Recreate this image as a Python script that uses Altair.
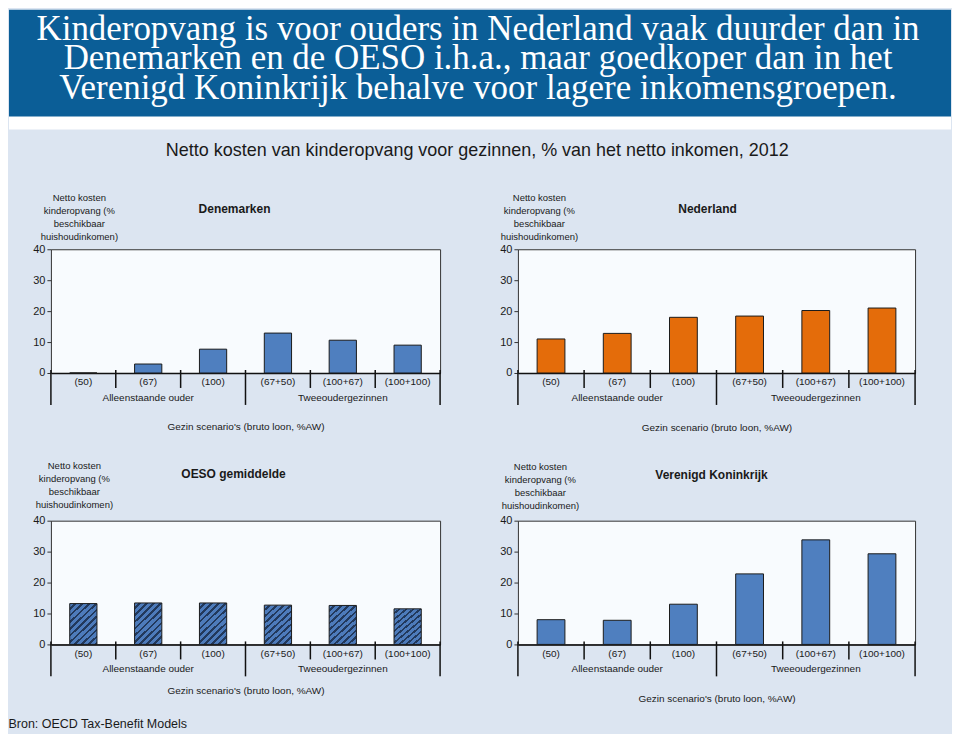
import altair as alt
import pandas as pd

# ---------------- data ----------------
scenarios = ["(50)", "(67)", "(100)", "(67+50)", "(100+67)", "(100+100)"]
groups = ["Alleenstaande ouder"] * 3 + ["Tweeoudergezinnen"] * 3
denemarken = [0.0, 2.9, 7.7, 12.9, 10.6, 9.0]
nederland = [11.0, 12.8, 18.0, 18.4, 20.2, 21.0]
oeso = [13.2, 13.4, 13.4, 12.7, 12.6, 11.5]
verenigd_koninkrijk = [8.0, 7.8, 13.0, 22.8, 33.8, 29.3]
y_ticks = [0, 10, 20, 30, 40]

banner_lines = [
    "Kinderopvang is voor ouders in Nederland vaak duurder dan in",
    "Denemarken en de OESO i.h.a., maar goedkoper dan in het",
    "Verenigd Koninkrijk behalve voor lagere inkomensgroepen.",
]
main_title = "Netto kosten van kinderopvang voor gezinnen, % van het netto inkomen, 2012"
y_title = ["Netto kosten", "kinderopvang (%", "beschikbaar", "huishoudinkomen)"]
x_title_a = "Gezin scenario's (bruto loon, %AW)"
x_title_b = "Gezin scenario (bruto loon, %AW)"
source_text = "Bron: OECD Tax-Benefit Models"

# ---------------- style ----------------
FONT = "Liberation Sans, Arial, sans-serif"
SERIF = "Liberation Serif, DejaVu Serif, serif"
BG = "#dce5f1"
BANNER = "#0b5e97"
PLOT_BG = "#f8fbfe"
TXT = "#1a1a1a"
BLUE = "#4f7fbf"
ORANGE = "#e46c0a"

# hatched fill (diagonal stripes) as a hard-stop linear gradient
stops = []
n_stripes = 10
for i in range(n_stripes):
    a = i / n_stripes
    b = (i + 0.62) / n_stripes
    c = (i + 1) / n_stripes
    stops += [
        alt.GradientStop(offset=a, color="#4d7bbb"),
        alt.GradientStop(offset=b, color="#4d7bbb"),
        alt.GradientStop(offset=b, color="#22395c"),
        alt.GradientStop(offset=c, color="#22395c"),
    ]
HATCH = alt.LinearGradient(gradient="linear", stops=stops, x1=0, y1=0, x2=0.744, y2=1.163)


def panel(values, name, xtitle, fill, width, height, title_pad, ytitle_x, ytitle_y,
          title_offset, title_dx):
    df = pd.DataFrame({"scenario": scenarios, "groep": groups, "waarde": values})
    xaxis = alt.Axis(
        title=xtitle, labelAngle=0, ticks=False, domain=True, domainColor="#111",
        domainWidth=1.5, labelPadding=4, labelFontSize=10, labelFont=FONT,
        labelColor=TXT, titleFont=FONT, titleFontSize=10, titleFontWeight="normal",
        titleColor=TXT, titlePadding=title_pad,
    )
    xscale = alt.Scale(type="band", paddingInner=0, paddingOuter=0)

    def xenc(bp=None):
        if bp is None:
            return alt.X("scenario:N", sort=scenarios, scale=xscale, axis=xaxis)
        return alt.X("scenario:N", sort=scenarios, scale=xscale, axis=xaxis, bandPosition=bp)

    bars = alt.Chart(df).mark_bar(
        fill=fill, stroke="#1b1b1b", strokeWidth=1, width=alt.RelativeBandSize(0.42)
    ).encode(
        x=xenc(),
        y=alt.Y(
            "waarde:Q",
            scale=alt.Scale(domain=[0, 40]),
            axis=alt.Axis(
                values=y_ticks, grid=False, domain=False, tickSize=4, tickColor="#333",
                labelPadding=2, labelFontSize=11, labelFont=FONT, labelColor=TXT,
                title=y_title, titleAngle=0, titleAlign="center", titleBaseline="middle",
                titleX=ytitle_x, titleY=ytitle_y, titleLineHeight=13, titleFont=FONT,
                titleFontSize=9.5, titleFontWeight="normal", titleColor=TXT,
            ),
        ),
    )

    starts = [s for i, s in enumerate(scenarios) if i == 0 or groups[i] != groups[i - 1]]
    inner = [s for s in scenarios if s not in starts]
    long_df = pd.DataFrame({"scenario": starts})
    short_df = pd.DataFrame({"scenario": inner})
    end_df = pd.DataFrame({"scenario": [scenarios[-1]]})

    rule_long = alt.Chart(long_df).mark_rule(color="#111", strokeWidth=1.5).encode(
        x=xenc(0), y=alt.value(height - 3), y2=alt.value(height + 32))
    rule_end = alt.Chart(end_df).mark_rule(color="#111", strokeWidth=1.5).encode(
        x=xenc(1), y=alt.value(height - 3), y2=alt.value(height + 32))
    rule_short = alt.Chart(short_df).mark_rule(color="#111", strokeWidth=1.5).encode(
        x=xenc(0), y=alt.value(height - 3), y2=alt.value(height + 15))

    uniq = []
    for g in groups:
        if g not in uniq:
            uniq.append(g)
    mids = []
    for g in uniq:
        members = [s for s, gg in zip(scenarios, groups) if gg == g]
        mids.append(members[len(members) // 2])
    lab_df = pd.DataFrame({"scenario": mids, "groep": uniq})
    group_labels = alt.Chart(lab_df).mark_text(
        font=FONT, fontSize=10, color=TXT, baseline="middle"
    ).encode(x=xenc(), y=alt.value(height + 25), text="groep:N")

    return alt.layer(bars, rule_short, rule_long, rule_end, group_labels).properties(
        width=width,
        height=height,
        title=alt.TitleParams(
            name, font=FONT, fontSize=12, fontWeight="bold", color=TXT,
            anchor="middle", offset=title_offset, dx=title_dx,
        ),
        view=alt.ViewBackground(fill=PLOT_BG, stroke="#333", strokeWidth=1),
    )


H = 124
p_dk = panel(denemarken, "Denemarken", x_title_a, BLUE, 390, H, 35, 28, -52, -24, -11)
p_nl = panel(nederland, "Nederland", x_title_b, ORANGE, 398, H, 36, 21, -52, -24, -9)
p_oe = panel(oeso, "OESO gemiddelde", x_title_a, HATCH, 390, H, 27, 23, -55, -20, -12)
p_uk = panel(verenigd_koninkrijk, "Verenigd Koninkrijk", x_title_a, BLUE, 398, H, 35, 22, -54, -20, -5)

body = alt.concat(
    p_dk, p_nl, p_oe, p_uk, columns=2, spacing={"row": 148, "column": 78}, bounds="flush"
).properties(
    title=alt.TitleParams(main_title, font=FONT, fontSize=18, fontWeight="normal",
                          color=TXT, anchor="middle", offset=32, dx=3)
)

one = pd.DataFrame({"k": [0]})
white_strip = alt.Chart(one).mark_rect(color="white").encode(
    x=alt.value(-42), x2=alt.value(902), y=alt.value(0), y2=alt.value(120))
blue_band = alt.Chart(one).mark_rect(color=BANNER).encode(
    x=alt.value(-42), x2=alt.value(902), y=alt.value(0), y2=alt.value(107))
banner_text = alt.Chart(one).mark_text(
    font=SERIF, fontSize=35, color="white", lineHeight=29.5, align="center", baseline="middle"
).encode(x=alt.value(428), y=alt.value(19), text=alt.value(banner_lines))
banner = alt.layer(white_strip, blue_band, banner_text).properties(
    width=860, height=120,
    view=alt.ViewBackground(fill="transparent", stroke="transparent"),
)

chart = alt.vconcat(banner, body, spacing=11).properties(
    title=alt.TitleParams(source_text, orient="bottom", anchor="start", font=FONT,
                          fontSize=12.5, fontWeight="normal", color=TXT, offset=14),
    padding={"left": 0, "top": 0, "right": 0, "bottom": 3},
).configure(background=BG)

chart.save("out.html", embed_options={"renderer": "svg", "actions": False})
